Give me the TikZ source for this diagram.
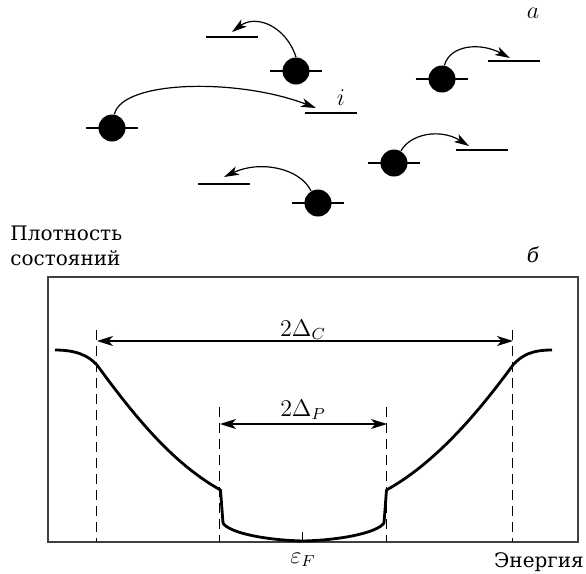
\documentclass[tikz,border=0pt]{standalone}
\usepackage{fontspec}
\usepackage{amsmath, amssymb}
\usetikzlibrary{arrows.meta}
\newfontfamily\rusfont{DejaVu Serif}

\tikzset{
    electron/.style={circle, fill=black, minimum size=13.5pt, inner sep=0pt},
    level/.style={line width=1.3pt},
    hop/.style={line width=0.6pt, -{Stealth[length=7.5pt,width=4.5pt,inset=2pt]}},
    gap/.style={line width=0.6pt, {Stealth[length=8pt,width=5pt,inset=2.2pt]}-{Stealth[length=8pt,width=5pt,inset=2.2pt]}},
    guide/.style={line width=0.5pt, dash pattern=on 5pt off 3pt},
    dos/.style={line width=1.4pt, line join=round},
    frame/.style={line width=0.7pt, black!75},
    rus/.style={font=\rusfont, inner sep=0pt},
    lbl/.style={inner sep=0pt, anchor=base, font=\fontsize{12}{14}\selectfont}
}

\begin{document}
\begin{tikzpicture}[x=0.5pt, y=-0.5pt]
    \useasboundingbox (0,0) rectangle (586,574);

    % Электроны и уровни
    \foreach \n/\ex/\ey/\lx/\ly in {1/296/71/232/37, 2/442/79/514/61, 3/112/128/331/113,
                                    4/394/163/482/150, 5/318/203/224/184} {
        \node[electron] (e\n) at (\ex,\ey) {};
        \draw[level] (e\n.center) ++(-26,0) -- ++(52,0);
        \coordinate (l\n) at (\lx,\ly);
        \draw[level] (l\n) ++(-26,0) -- ++(52,0);
    }

    % Прыжки
    \coordinate (t1) at (232,32);
    \coordinate (t2) at (510,58);
    \coordinate (t3) at (316,108);
    \coordinate (t4) at (469,146);
    \coordinate (t5) at (224,177);
    \draw[hop] (e1.north) .. controls (286,26) and (256,14) .. (t1);
    \draw[hop] (e2.80) .. controls (450,45) and (480,42) .. (t2);
    \draw[hop] (e3.80) .. controls (122,80) and (238,78) .. (t3);
    \draw[hop] (e4.60) .. controls (410,134) and (440,128) .. (t4);
    \draw[hop] (e5.120) .. controls (300,168) and (260,160) .. (t5);

    \node[lbl] (lbla) at (533,18) {$a$};
    \node[lbl] (lbli) at (341,105) {$i$};

    % Плотность состояний
    \node[rus, anchor=base west] (ylab1) at (10,240) {Плотность};
    \node[rus, anchor=base west] (ylab2) at (10,265) {состояний};
    \node[rus, anchor=base, font=\rusfont\itshape] (lblb) at (533,262) {б};

    \draw[frame] (48,277) rectangle (578,542);

    % Щели
    \draw[guide] (97,330) -- (97,542);
    \draw[guide] (513,330) -- (513,542);
    \draw[guide] (220,407) -- (220,542);
    \draw[guide] (387,407) -- (387,542);
    \draw[gap] (97,341) -- (513,341);
    \draw[gap] (220,424) -- (387,424);
    \node[lbl] (dc) at (303,336) {$2\Delta_C$};
    \node[lbl] (dp) at (303,416) {$2\Delta_P$};

    % Кривая
    \draw[dos] (55,350) .. controls (75,350) and (88,355) .. (97,365)
        .. controls (130,410) and (170,462) .. (220.5,490) -- (223,523)
        .. controls (228,532) and (262,540) .. (303,541)
        .. controls (344,540) and (378,532) .. (384,523) -- (386.5,490)
        .. controls (437,462) and (480,410) .. (513,365)
        .. controls (522,355) and (532,350) .. (552,350);

    % Ось энергии
    \draw[line width=0.5pt] (303,532) -- (303,542);
    \node[lbl] (ef) at (303,563) {$\varepsilon_F$};
    \node[rus, anchor=base] (xlab) at (539,567) {Энергия};
\end{tikzpicture}
\end{document}
